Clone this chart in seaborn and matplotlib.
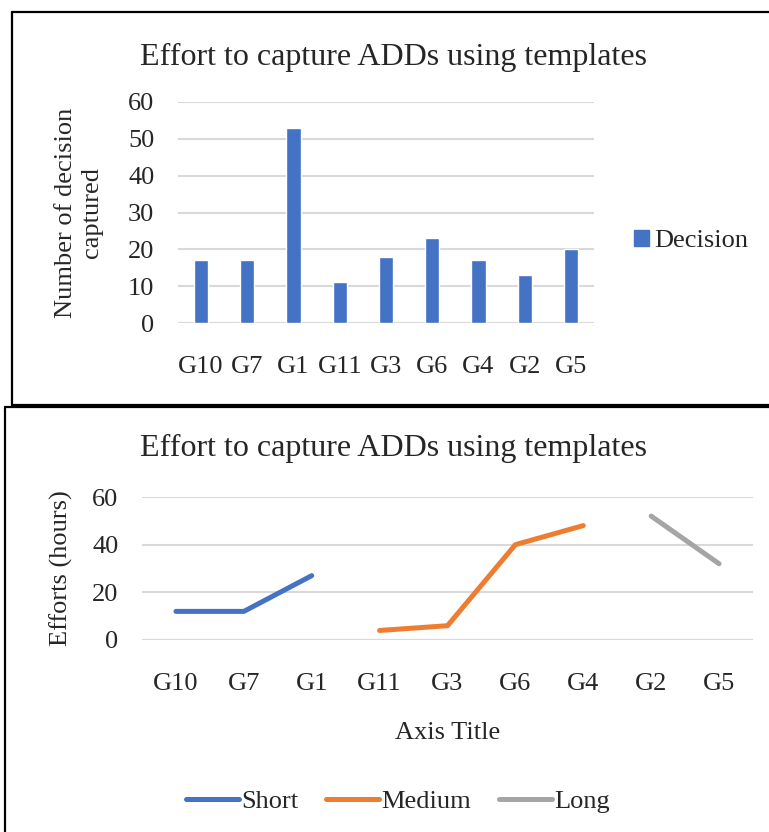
import matplotlib
matplotlib.use("Agg")
import matplotlib.pyplot as plt
import seaborn as sns
import pandas as pd
from matplotlib.patches import Rectangle
from matplotlib.lines import Line2D

groups = ["G10", "G7", "G1", "G11", "G3", "G6", "G4", "G2", "G5"]
decisions = [17, 17, 53, 11, 18, 23, 17, 13, 20]

short_groups = ["G10", "G7", "G1"]
short_vals = [12, 12, 27]
medium_groups = ["G11", "G3", "G6", "G4"]
medium_vals = [4, 6, 40, 48]
long_groups = ["G2", "G5"]
long_vals = [52, 32]

sns.set_theme(style="white")
plt.rcParams['font.family'] = ['Liberation Serif', 'DejaVu Serif']

W, H = 769, 832
fig = plt.figure(figsize=(W / 100, H / 100), dpi=100)

def ax_rect(x0, y0, x1, y1):
    return [x0 / W, 1 - y1 / H, (x1 - x0) / W, (y1 - y0) / H]

blue = "#4472C4"
orange = "#ED7D31"
gray = "#A5A5A5"
grid = "#D9D9D9"
fs = 19
tfs = 23

# ---------- top chart ----------
ax1 = fig.add_axes(ax_rect(178, 102, 594, 323))
df1 = pd.DataFrame({"group": groups, "Decision": decisions})
sns.barplot(data=df1, x="group", y="Decision", order=groups, color=blue,
            width=0.31, ax=ax1, saturation=1)
ax1.set_xlim(-0.5, 8.5)
ax1.set_ylim(0, 60)
ax1.set_yticks(range(0, 61, 10))
for s in ax1.spines.values():
    s.set_visible(False)
ax1.yaxis.grid(True, color=grid, lw=1.5)
ax1.set_axisbelow(True)
ax1.axhline(0, color=grid, lw=1.5, zorder=0.5)
ax1.tick_params(axis='both', labelsize=fs, length=0)
ax1.tick_params(axis='x', pad=24)
ax1.tick_params(axis='y', pad=17)
ax1.set_xlabel("")
ax1.set_ylabel("Number of decision\ncaptured", fontsize=fs, labelpad=18, linespacing=1.25)
fig.text(394 / W, 1 - 57 / H, "Effort to capture ADDs using templates",
         fontsize=tfs, ha="center", va="center")
ax1.legend(handles=[Rectangle((0, 0), 1, 1, color=blue)], labels=["Decision"],
           loc="center left", bbox_to_anchor=(1.04, 0.37), frameon=False,
           fontsize=fs, handlelength=0.55, handleheight=0.55, handletextpad=0.2)

# ---------- bottom chart ----------
ax2 = fig.add_axes(ax_rect(142, 497, 753, 640))
df2 = pd.DataFrame({
    "group": short_groups + medium_groups + long_groups,
    "hours": short_vals + medium_vals + long_vals,
    "series": ["Short"] * len(short_groups) + ["Medium"] * len(medium_groups) + ["Long"] * len(long_groups),
})
df2["pos"] = [groups.index(g) for g in df2["group"]]
sns.lineplot(data=df2, x="pos", y="hours", hue="series",
             palette={"Short": blue, "Medium": orange, "Long": gray},
             lw=3.6, ax=ax2, legend=False, solid_capstyle="round")
ax2.set_xlim(-0.5, 8.5)
ax2.set_ylim(0, 60)
ax2.set_yticks(range(0, 61, 20))
ax2.set_xticks(range(len(groups)))
ax2.set_xticklabels(groups)
for s in ax2.spines.values():
    s.set_visible(False)
ax2.yaxis.grid(True, color=grid, lw=1.5)
ax2.set_axisbelow(True)
ax2.axhline(0, color=grid, lw=1.5, zorder=0.5)
ax2.tick_params(axis='both', labelsize=fs, length=0)
ax2.tick_params(axis='x', pad=24)
ax2.tick_params(axis='y', pad=17)
ax2.set_xlabel("Axis Title", fontsize=fs, labelpad=19)
ax2.set_ylabel("Efforts (hours)", fontsize=fs, labelpad=14)
fig.text(394 / W, 1 - 448 / H, "Effort to capture ADDs using templates",
         fontsize=tfs, ha="center", va="center")
handles = [Line2D([], [], color=c, lw=3.6, solid_capstyle="round") for c in (blue, orange, gray)]
fig.legend(handles=handles, labels=["Short", "Medium", "Long"],
           loc="center", bbox_to_anchor=(398 / W, 1 - 801 / H), ncol=3, frameon=False,
           fontsize=fs, handlelength=2.0, handletextpad=0.1, columnspacing=1.05)

# ---------- borders ----------
fig.add_artist(Line2D([12 / W, 12 / W], [1 - 12 / H, 1 - 405 / H], color="black", lw=1.6,
                      transform=fig.transFigure))
fig.add_artist(Line2D([12 / W, 1], [1 - 12 / H, 1 - 12 / H], color="black", lw=1.6,
                      transform=fig.transFigure))
fig.add_artist(Line2D([12 / W, 1], [1 - 405 / H, 1 - 405 / H], color="black", lw=1.6,
                      transform=fig.transFigure))
fig.add_artist(Line2D([5 / W, 1], [1 - 407 / H, 1 - 407 / H], color="black", lw=1.6,
                      transform=fig.transFigure))
fig.add_artist(Line2D([5 / W, 5 / W], [1 - 407 / H, 0], color="black", lw=1.6,
                      transform=fig.transFigure))

fig.savefig("out.png", dpi=100)
